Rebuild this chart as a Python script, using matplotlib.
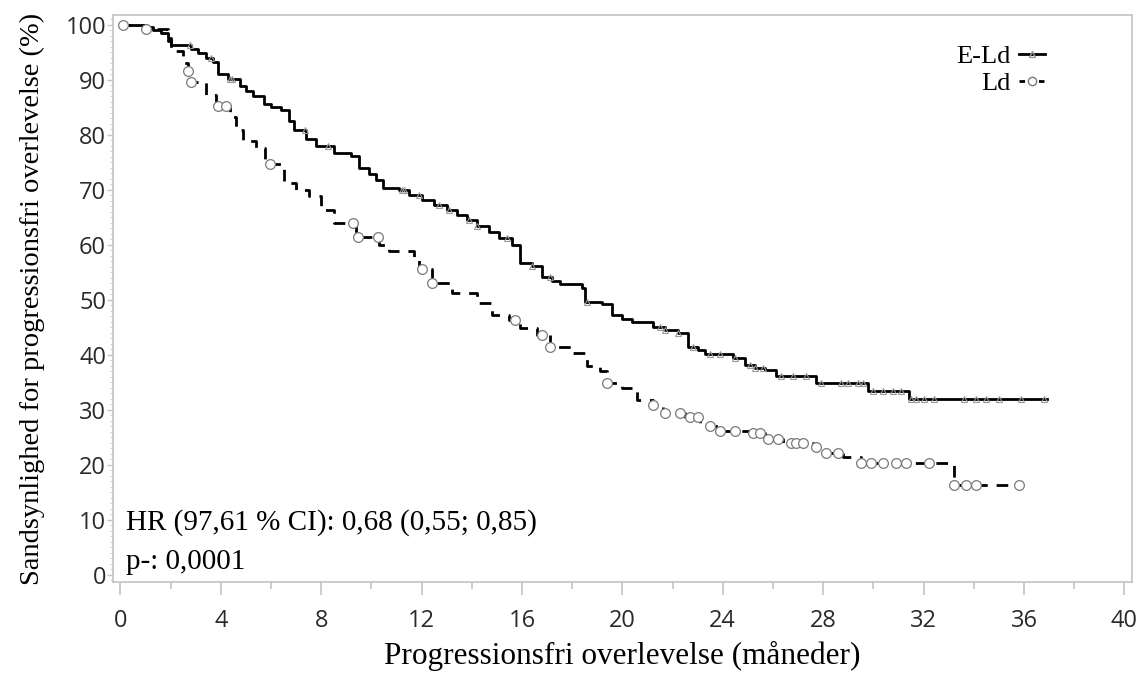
import matplotlib

matplotlib.use("Agg")
import matplotlib.pyplot as plt
import numpy as np
from matplotlib.lines import Line2D
from matplotlib.ticker import MultipleLocator

# E-Ld: step times (months) and survival level (%) after each step
eld_times = [0, 1.0, 1.3, 1.6, 1.9, 2.0, 2.8, 3.1, 3.4, 3.7, 3.9, 4.3, 4.75, 5.0, 5.3,
             5.7, 6.0, 6.4, 6.7, 6.9, 7.4, 7.8, 8.5, 9.2, 9.5, 9.9, 10.2, 10.45, 11.1,
             11.5, 12.0, 12.5, 13.0, 13.4, 13.8, 14.2, 14.7, 15.1, 15.6, 15.9, 16.4,
             16.8, 17.2, 17.5, 18.4, 18.5, 19.2, 19.6, 20.0, 20.4, 21.2, 21.7, 22.2,
             22.6, 23.0, 23.3, 24.4, 24.9, 25.3, 25.7, 26.1, 27.7, 29.8, 31.4, 36.9]
eld_surv = [100, 99.5, 99, 98.5, 97.5, 96.4, 95.6, 94.8, 94, 93.2, 91, 90.2, 88.8, 88, 87,
            85.6, 85, 84.5, 82.5, 80.9, 79.2, 77.9, 76.7, 76.2, 74, 72.8, 71.8, 70.4, 70,
            69, 68.2, 67.3, 66.4, 65.4, 64.5, 63.4, 62.4, 61.2, 60, 56.7, 56.2,
            54.2, 53.4, 52.8, 52.2, 49.7, 49.2, 47.3, 46.6, 46, 45.1, 44.5, 43.9,
            41.5, 40.8, 40.2, 39.4, 38.2, 37.6, 37.2, 36.2, 34.8, 33.5, 32.0, 32.0]
eld_censor = [0.1, 1.0, 2.77, 3.6, 4.35, 4.45, 7.35, 8.27, 11.2, 11.3, 11.9, 12.7, 13.1,
              13.9, 14.2, 15.4, 16.4, 17.1, 18.6, 21.5, 21.7, 22.2, 22.8, 23.5, 23.9,
              24.5, 25.1, 25.3, 25.6, 26.3, 26.8, 27.3, 27.9, 28.7, 29.0, 29.4, 29.6,
              30.0, 30.4, 30.8, 31.1, 31.5, 31.7, 32.0, 32.4, 33.6, 34.1, 34.5, 35.0,
              35.9, 36.8]

# Ld
ld_times = [0, 1.0, 1.9, 2.0, 2.5, 2.7, 2.8, 3.4, 3.8, 4.35, 4.6, 4.9, 5.4, 5.75, 6.4,
            6.5, 7.0, 7.5, 8.0, 8.5, 9.4, 10.3, 10.7, 11.7, 11.9, 12.4, 13.2, 14.2, 14.8,
            15.5, 15.9, 16.6, 17.1, 18.0, 18.6, 19.1, 19.4, 20.0, 20.6, 21.2, 21.6,
            22.5, 23.1, 23.9, 25.1, 25.7, 26.4, 27.6, 28.1, 28.8, 29.5, 33.2, 35.8]
ld_surv = [100, 99.2, 97, 95.2, 93, 91.5, 89.6, 87.3, 85.2, 83.3, 80.9, 78.8, 77.6, 74.6, 73.9,
           71.2, 70, 68.8, 66.4, 63.9, 61.5, 60, 58.8, 57.3, 55.6, 53, 51.2, 49.4, 47.3,
           46.4, 44.8, 43.6, 41.5, 40.3, 37.9, 37, 34.8, 33.9, 31.8, 30.9, 29.4,
           28.8, 27, 26.1, 25.8, 24.8, 23.9, 23.3, 22.1, 21.5, 20.3, 16.4, 16.4]
ld_censor = [0.1, 1.0, 2.7, 2.8, 3.9, 4.2, 5.95, 9.27, 9.46, 10.25, 12.0, 12.4, 15.7,
             16.8, 17.1, 19.4, 21.2, 21.7, 22.3, 22.7, 23.0, 23.5, 23.9, 24.5, 25.2,
             25.5, 25.8, 26.2, 26.7, 26.9, 27.2, 27.7, 28.1, 28.6, 29.5, 29.9, 30.4,
             30.9, 31.3, 32.2, 33.2, 33.7, 34.1, 35.8]

x_ticks = [0, 4, 8, 12, 16, 20, 24, 28, 32, 36, 40]
y_ticks = [0, 10, 20, 30, 40, 50, 60, 70, 80, 90, 100]

SERIF = "Liberation Serif"
SANS = "Open Sans"
SPINE = "#c4c4c4"


def step_value(times, surv, t):
    idx = np.searchsorted(times, t, side="right") - 1
    return np.asarray(surv)[idx]


fig = plt.figure(figsize=(11.41, 6.73), dpi=100)
ax = fig.add_axes([0.099, 0.135, 0.893, 0.843])

ax.step(eld_times, eld_surv, where="post", color="black", linewidth=2.0, zorder=3)
ax.plot(eld_censor, step_value(eld_times, eld_surv, eld_censor), linestyle="none",
        marker="^", markersize=5, markerfacecolor="none", markeredgecolor="#9a9a9a",
        markeredgewidth=0.8, zorder=4)

ax.step(ld_times, ld_surv, where="post", color="black", linewidth=2.0,
        linestyle=(0, (4.2, 3.2)), zorder=3)
ax.plot(ld_censor, step_value(ld_times, ld_surv, ld_censor), linestyle="none",
        marker="o", markersize=7, markerfacecolor="white", markeredgecolor="#7a7a7a",
        markeredgewidth=0.9, zorder=4)

ax.set_xlim(-0.3, 40.3)
ax.set_ylim(-1.3, 101.8)
ax.set_xticks(x_ticks)
ax.set_yticks(y_ticks)
ax.xaxis.set_minor_locator(MultipleLocator(2))
ax.yaxis.set_minor_locator(MultipleLocator(1))
ax.tick_params(axis="x", which="major", length=9, width=1.2, color=SPINE,
               labelsize=17, labelcolor="#2a2a2a", pad=10)
ax.tick_params(axis="x", which="minor", length=5, width=1.2, color=SPINE)
ax.tick_params(axis="y", which="major", length=4, width=1.0, color=SPINE,
               labelsize=17, labelcolor="#2a2a2a", pad=1)
ax.tick_params(axis="y", which="minor", length=2, width=0.6, color=SPINE)
for label in ax.get_xticklabels() + ax.get_yticklabels():
    label.set_fontfamily(SANS)
for spine in ax.spines.values():
    spine.set_color(SPINE)
    spine.set_linewidth(1.2)

ax.set_xlabel("Progressionsfri overlevelse (måneder)", fontfamily=SERIF, fontsize=22.5,
              labelpad=6)
ax.set_ylabel("Sandsynlighed for progressionsfri overlevelse (%)", fontfamily=SERIF,
              fontsize=20.5, labelpad=15)

ax.text(0.2, 9.6, "HR (97,61 % CI): 0,68 (0,55; 0,85)", fontfamily=SERIF, fontsize=21,
        va="center", ha="left")
ax.text(0.2, 2.4, "p-: 0,0001", fontfamily=SERIF, fontsize=21, va="center", ha="left")

handles = [
    Line2D([], [], color="black", linewidth=2.0, marker="^", markersize=5,
           markerfacecolor="none", markeredgecolor="#9a9a9a"),
    Line2D([], [], color="black", linewidth=2.0, linestyle=(0, (2, 1.5)), marker="o",
           markersize=6, markerfacecolor="white", markeredgecolor="#7a7a7a"),
]
ax.legend(handles, ["E-Ld", "Ld"], loc="upper right", bbox_to_anchor=(0.915, 0.948),
          frameon=False, markerfirst=False, handlelength=1.0, handletextpad=0.3,
          labelspacing=0.15, borderpad=0, borderaxespad=0,
          prop={"family": SERIF, "size": 19})

fig.savefig("out.png", dpi=100)
plt.close(fig)
